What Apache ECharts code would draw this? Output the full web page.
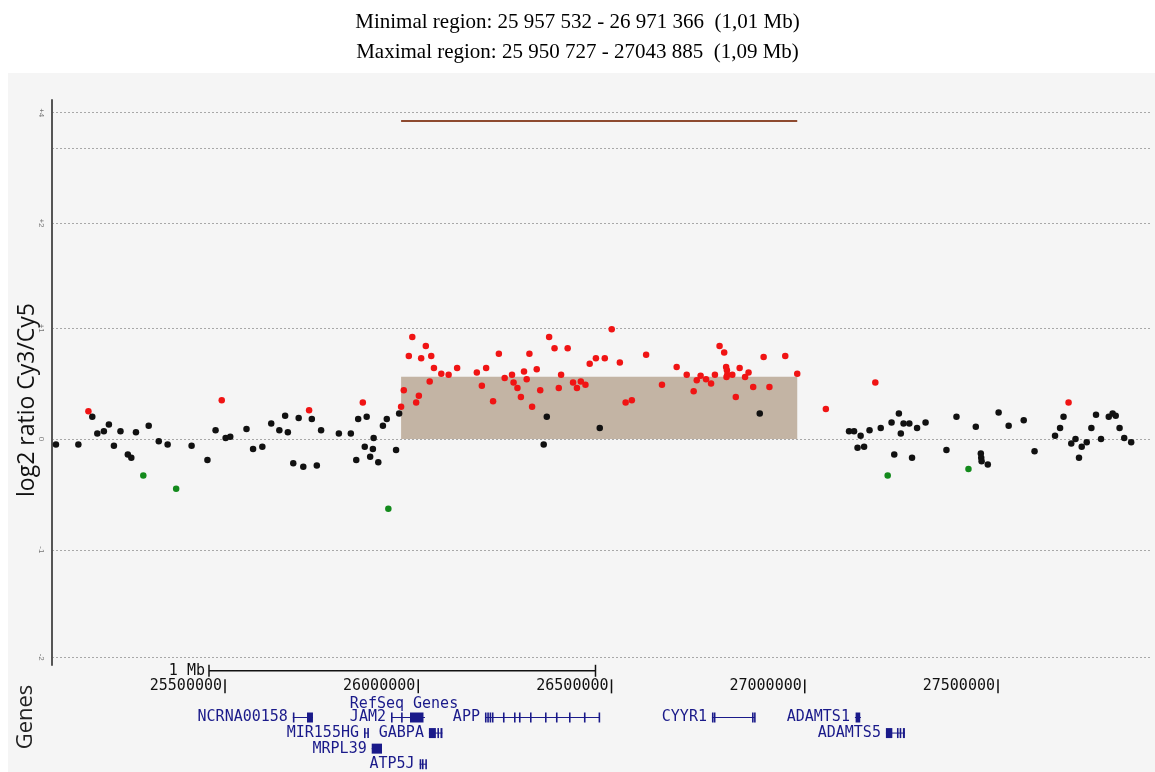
<!DOCTYPE html>
<html><head><meta charset="utf-8">
<script src="https://cdn.jsdelivr.net/npm/echarts@6/dist/echarts.min.js"></script>
<style>html,body{margin:0;padding:0;background:#fff}#c{width:1155px;height:772px}</style>
</head><body><div id="c"></div>
<script>
// ---------- text ----------
const titleLine1 = 'Minimal region: 25 957 532 - 26 971 366  (1,01 Mb)';
const titleLine2 = 'Maximal region: 25 950 727 - 27043 885  (1,09 Mb)';
const yTitle = 'log2 ratio Cy3/Cy5';
const genesTitle = 'Genes';
const trackTitle = 'RefSeq Genes';

// ---------- axes ----------
const xMin = 25049800, xMax = 27890700;
const yMin = -2.04, yMax = 3.06;
const yTickValues = [-1.97, -1, 0, 1, 1.95, 2.62, 2.945];
const yTickLabels = ['-2', '-1', '0', '+1', '+2', '', '+4'];

// ---------- probes (position bp, log2 ratio, call G=gain N=normal L=loss) ----------
const probePos = [25060000,25118000,25144000,25154000,25167000,25184000,25197000,25210000,25227000,25246000,
25255000,25267000,25286000,25300000,25326000,25349000,25371000,25411000,25452000,25473000,
25489000,25499000,25511000,25553000,25570000,25594000,25617000,25638000,25653000,25660000,
25674000,25688000,25700000,25715000,25722000,25735000,25746000,25792000,25823000,25837000,
25842000,25854000,25859000,25864000,25873000,25880000,25882000,25894000,25906000,25916000,
25920000,25940000,25948000,25953000,25960000,25973000,25982000,25992000,25999000,26005000,
26017000,26027000,26031000,26038000,26057000,26076000,26098000,26149000,26162000,26173000,
26191000,26206000,26221000,26240000,26244000,26254000,26263000,26271000,26278000,26285000,
26292000,26304000,26313000,26322000,26330000,26336000,26350000,26361000,26367000,26384000,
26398000,26408000,26418000,26430000,26441000,26457000,26467000,26480000,26498000,26519000,
26534000,26550000,26587000,26628000,26666000,26692000,26710000,26718000,26728000,26742000,
26755000,26765000,26777000,26789000,26794000,26796000,26797000,26795000,26810000,26819000,
26829000,26843000,26852000,26864000,26881000,26891000,26906000,26947000,26978000,27052000,
27112000,27125000,27134000,27142000,27151000,27165000,27180000,27194000,27212000,27222000,
27229000,27241000,27246000,27253000,27268000,27275000,27288000,27310000,27364000,27390000,
27421000,27440000,27453000,27454000,27455000,27471000,27499000,27525000,27564000,27592000,
27645000,27658000,27667000,27680000,27687000,27698000,27707000,27714000,27727000,27739000,
27751000,27764000,27784000,27794000,27802000,27812000,27824000,27842000];
const probeLog2 = [-0.05,-0.05,0.25,0.20,0.05,0.07,0.13,-0.06,0.07,-0.14,
-0.17,0.06,-0.33,0.12,-0.02,-0.05,-0.45,-0.06,-0.19,0.08,
0.35,0.01,0.02,0.09,-0.09,-0.07,0.14,0.08,0.21,0.06,
-0.22,0.19,-0.25,0.26,0.18,-0.24,0.08,0.05,0.05,-0.19,
0.18,0.33,-0.07,0.20,-0.16,-0.09,0.01,-0.21,0.12,0.18,
-0.63,-0.10,0.23,0.29,0.44,0.75,0.92,0.33,0.39,0.73,
0.84,0.52,0.75,0.64,0.59,0.58,0.64,0.60,0.48,0.64,
0.34,0.77,0.55,0.58,0.51,0.46,0.38,0.61,0.54,0.77,
0.29,0.63,0.44,-0.05,0.20,0.92,0.82,0.46,0.58,0.82,
0.51,0.46,0.52,0.49,0.68,0.73,0.10,0.73,0.99,0.69,
0.33,0.35,0.76,0.49,0.65,0.58,0.43,0.53,0.57,0.54,
0.50,0.58,0.84,0.78,0.65,0.62,0.58,0.56,0.58,0.38,
0.64,0.56,0.60,0.47,0.23,0.74,0.47,0.75,0.59,0.27,
0.07,0.07,-0.08,0.03,-0.07,0.08,0.51,0.10,-0.33,0.15,
-0.14,0.23,0.05,0.14,0.14,-0.17,0.10,0.15,-0.10,0.20,
-0.27,0.11,-0.13,-0.17,-0.20,-0.23,0.24,0.12,0.17,-0.11,
0.03,0.10,0.20,0.33,-0.04,0.00,-0.17,-0.07,-0.03,0.10,
0.22,0.00,0.20,0.23,0.21,0.10,0.01,-0.03];
const probeCall = ['N','N','G','N','N','N','N','N','N','N',
'N','N','L','N','N','N','L','N','N','N',
'G','N','N','N','N','N','N','N','N','N',
'N','N','N','G','N','N','N','N','N','N',
'N','G','N','N','N','N','N','N','N','N',
'L','N','N','G','G','G','G','G','G','G',
'G','G','G','G','G','G','G','G','G','G',
'G','G','G','G','G','G','G','G','G','G',
'G','G','G','N','N','G','G','G','G','G',
'G','G','G','G','G','G','N','G','G','G',
'G','G','G','G','G','G','G','G','G','G',
'G','G','G','G','G','G','G','G','G','G',
'G','G','G','G','N','G','G','G','G','G',
'N','N','N','N','N','N','G','N','L','N',
'N','N','N','N','N','N','N','N','N','N',
'L','N','N','N','N','N','N','N','N','N',
'N','N','N','G','N','N','N','N','N','N',
'N','N','N','N','N','N','N','N'];

// ---------- aberrant region ----------
const regionStart = 25953000, regionEnd = 26978000;
const regionMeanLog2 = 0.563;
const regionBarLevel = 2.87;

// ---------- gene track ----------
const laneNames = ['scale','coords','track','r1','r2','r3','r4'];
const scaleBarStart = 25456000, scaleBarLength = 1000000, scaleBarLabel = '1 Mb';
const coordTicks = [25500000, 26000000, 26500000, 27000000, 27500000];
const geneNames = ['NCRNA00158','JAM2','APP','CYYR1','ADAMTS1','MIR155HG','GABPA','ADAMTS5','MRPL39','ATP5J'];
const geneStart = [25673000,25926900,26170000,26757300,27127200,25857000,26025000,27207400,25877000,26001000];
const geneEnd   = [25725000,26014800,26467600,26868600,27142800,25867400,26060000,27256600,25903600,26018000];
const geneLane  = ['r1','r1','r1','r1','r1','r2','r2','r2','r3','r4'];
const geneExons = [
  [[25673000,25675500],[25709500,25725000]],
  [[25926900,25929500],[25953000,25955500],[25976000,26011000]],
  [[26170000,26173000],[26176000,26179000],[26182000,26185000],[26188000,26192000],[26216600,26218800],[26245100,26247300],[26258000,26260200],[26286500,26288700],[26325300,26327500],[26353700,26355900],[26387400,26389600],[26426100,26428300],[26464000,26467600]],
  [[26757300,26759600],[26762300,26764600],[26861000,26863300],[26866300,26868600]],
  [[27129000,27141000]],
  [[25857000,25858800],[25865600,25867400]],
  [[26025000,26043000],[26047000,26049500],[26055000,26060000]],
  [[27207400,27224000],[27236000,27238300],[27243000,27245300],[27251400,27256600]],
  [[25877000,25903600]],
  [[26001000,26003300],[26007000,26009300],[26015700,26018000]]
];

// ---------- colours ----------
const C_GAIN = '#f01414', C_NORM = '#111111', C_LOSS = '#138a1c';
const C_REGION = '#c3b4a4', C_BAR = '#8e4a30';
const NAVY = '#1a1a8a';
const MONO = '"DejaVu Sans Mono","Liberation Mono",monospace';

function probesOf(call) {
  const out = [];
  for (let i = 0; i < probePos.length; i++) if (probeCall[i] === call) out.push([probePos[i], probeLog2[i]]);
  return out;
}
function yLabel(v) {
  for (let i = 0; i < yTickValues.length; i++) if (Math.abs(yTickValues[i] - v) < 1e-6) return yTickLabels[i];
  return '';
}

function renderGene(params, api) {
  const i = api.value(3);
  const lane = api.value(2);
  const a = api.coord([api.value(0), lane]);
  const b = api.coord([api.value(1), lane]);
  const y = a[1];
  const kids = [{type:'line', shape:{x1:a[0], y1:y, x2:b[0], y2:y}, style:{stroke:NAVY, lineWidth:1}}];
  geneExons[i].forEach(function (ex) {
    const p = api.coord([ex[0], lane])[0], q = api.coord([ex[1], lane])[0];
    kids.push({type:'rect', shape:{x:p, y:y-5, width:Math.max(q-p, 1.6), height:10}, style:{fill:NAVY}});
  });
  kids.push({type:'text', style:{text:geneNames[i], x:a[0]-5, y:y, align:'right', verticalAlign:'middle', textAlign:'right', textVerticalAlign:'middle', font:'15px ' + MONO, fill:NAVY}});
  return {type:'group', children:kids};
}
function renderScale(params, api) {
  const lane = api.value(2);
  const a = api.coord([api.value(0), lane]);
  const b = api.coord([api.value(1), lane]);
  const y = a[1];
  return {type:'group', children:[
    {type:'line', shape:{x1:a[0], y1:y, x2:b[0], y2:y}, style:{stroke:'#111', lineWidth:1.5}},
    {type:'line', shape:{x1:a[0], y1:y-6, x2:a[0], y2:y+6}, style:{stroke:'#111', lineWidth:1.5}},
    {type:'line', shape:{x1:b[0], y1:y-6, x2:b[0], y2:y+6}, style:{stroke:'#111', lineWidth:1.5}},
    {type:'text', style:{text:scaleBarLabel, x:a[0]-4, y:y, align:'right', verticalAlign:'middle', textAlign:'right', textVerticalAlign:'middle', font:'15px ' + MONO, fill:'#111'}}
  ]};
}
function renderCoord(params, api) {
  const p = api.coord([api.value(0), api.value(1)]);
  return {type:'group', children:[
    {type:'text', style:{text:String(coordTicks[params.dataIndex]), x:p[0]-4, y:p[1], align:'right', verticalAlign:'middle', textAlign:'right', textVerticalAlign:'middle', font:'15px ' + MONO, fill:'#111'}},
    {type:'line', shape:{x1:p[0]-1, y1:p[1]-7, x2:p[0]-1, y2:p[1]+7}, style:{stroke:'#111', lineWidth:1.5}}
  ]};
}

const chart = echarts.init(document.getElementById('c'), null, {renderer:'canvas'});
chart.setOption({
  animation: false,
  backgroundColor: '#ffffff',
  title: {
    text: titleLine1 + '\n' + titleLine2,
    left: 'center', top: 2,
    textStyle: {fontFamily:'"Liberation Serif","Times New Roman",serif', fontSize:21, fontWeight:'normal', color:'#000', lineHeight:30}
  },
  graphic: [
    {type:'rect', z:-100, silent:true, shape:{x:8, y:73, width:1147, height:699}, style:{fill:'#f5f5f5'}},
    {type:'text', z:10, x:27, y:400, rotation:Math.PI/2, style:{text:yTitle, align:'center', verticalAlign:'middle', textAlign:'center', textVerticalAlign:'middle', font:'23px "Open Sans","Noto Sans",sans-serif', fill:'#111'}},
    {type:'text', z:10, x:26, y:717, rotation:Math.PI/2, style:{text:genesTitle, align:'center', verticalAlign:'middle', textAlign:'center', textVerticalAlign:'middle', font:'22px "Open Sans","Noto Sans",sans-serif', fill:'#222'}},
    {type:'text', z:10, x:404, y:704, style:{text:trackTitle, align:'center', verticalAlign:'middle', textAlign:'center', textVerticalAlign:'middle', font:'15px ' + MONO, fill:NAVY}}
  ],
  grid: [
    {left:52, right:5, top:100, bottom:107},
    {left:52, right:5, top:663, height:112}
  ],
  xAxis: [
    {type:'value', gridIndex:0, min:xMin, max:xMax, show:false},
    {type:'value', gridIndex:1, min:xMin, max:xMax, show:false}
  ],
  yAxis: [
    {type:'value', gridIndex:0, min:yMin, max:yMax,
     axisLine:{show:true, lineStyle:{color:'#555', width:2}},
     axisTick:{show:false, customValues:yTickValues},
     axisLabel:{customValues:yTickValues, formatter:yLabel, rotate:-90, fontSize:8, color:'#777', margin:7},
     splitLine:{show:true, lineStyle:{color:'#a8a8a8', type:[2,2], width:1}}},
    {type:'category', gridIndex:1, data:laneNames, inverse:true, show:false}
  ],
  series: [
    {type:'scatter', name:'region', xAxisIndex:0, yAxisIndex:0, data:[], z:1, silent:true,
     markArea:{silent:true, itemStyle:{color:C_REGION, opacity:1}, data:[[{coord:[regionStart, 0]}, {coord:[regionEnd, regionMeanLog2]}]]},
     markLine:{silent:true, symbol:'none', label:{show:false}, lineStyle:{color:C_BAR, width:2, type:'solid'}, data:[[{coord:[regionStart, regionBarLevel]}, {coord:[regionEnd, regionBarLevel]}]]}},
    {type:'scatter', name:'normal', xAxisIndex:0, yAxisIndex:0, z:3, symbolSize:6.5, itemStyle:{color:C_NORM, opacity:1}, data:probesOf('N')},
    {type:'scatter', name:'gain', xAxisIndex:0, yAxisIndex:0, z:3, symbolSize:6.5, itemStyle:{color:C_GAIN, opacity:1}, data:probesOf('G')},
    {type:'scatter', name:'loss', xAxisIndex:0, yAxisIndex:0, z:3, symbolSize:6.5, itemStyle:{color:C_LOSS, opacity:1}, data:probesOf('L')},
    {type:'custom', name:'scale', xAxisIndex:1, yAxisIndex:1, clip:false, silent:true,
     encode:{x:[0,1], y:2}, renderItem:renderScale,
     data:[[scaleBarStart, scaleBarStart + scaleBarLength, 'scale']]},
    {type:'custom', name:'coords', xAxisIndex:1, yAxisIndex:1, clip:false, silent:true,
     encode:{x:0, y:1}, renderItem:renderCoord,
     data:coordTicks.map(function (v) { return [v, 'coords']; })},
    {type:'custom', name:'genes', xAxisIndex:1, yAxisIndex:1, clip:false, silent:true,
     encode:{x:[0,1], y:2}, renderItem:renderGene,
     data:geneNames.map(function (n, i) { return [geneStart[i], geneEnd[i], geneLane[i], i]; })}
  ]
});
</script>
</body></html>
